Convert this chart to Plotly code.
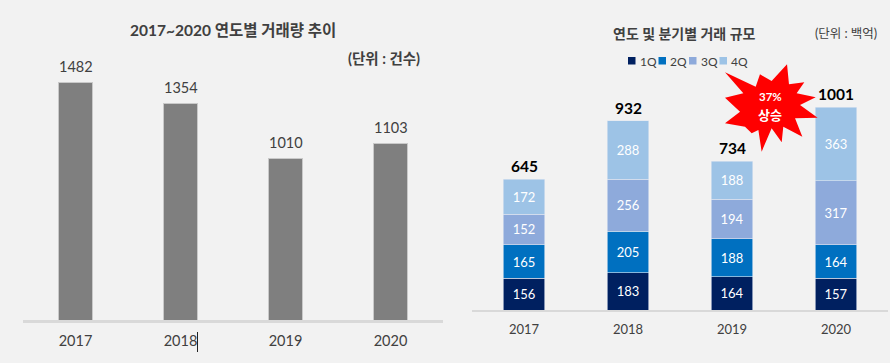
import plotly.graph_objects as go

FONT = "Lato, 'Noto Sans CJK KR', sans-serif"
BG = "#f2f2f2"

years = ["2017", "2018", "2019", "2020"]
volume = [1482, 1354, 1010, 1103]

quarters = ["1Q", "2Q", "3Q", "4Q"]
q1 = [156, 183, 164, 157]
q2 = [165, 205, 188, 164]
q3 = [152, 256, 194, 317]
q4 = [172, 288, 188, 363]
totals = [645, 932, 734, 1001]
q_colors = ["#002060", "#0070c0", "#8eaadb", "#9dc3e6"]

W, H = 890, 363


def px(x):
    return x / W


def py(y):
    return 1 - y / H


fig = go.Figure()

# left chart
fig.add_trace(go.Bar(
    x=years, y=volume, xaxis="x", yaxis="y", width=0.315,
    marker=dict(color="#7f7f7f", line=dict(width=1, color="#c9c9c9")),
    showlegend=False, hoverinfo="x+y",
))

# right chart
for name, vals, col in zip(quarters, [q1, q2, q3, q4], q_colors):
    fig.add_trace(go.Bar(
        x=years, y=vals, name=name, xaxis="x2", yaxis="y2", width=0.4,
        marker=dict(color=col, line=dict(width=0.6, color="#dfe6f0")),
        text=vals, textposition="inside", insidetextanchor="middle",
        textangle=0, constraintext="none",
        textfont=dict(family=FONT, size=13, color="#ffffff"),
        showlegend=False,
    ))

# burst outline, in crop pixels of the callout
burst = [(216, 28), (222, 88), (268, 82), (245, 115), (302, 127), (255, 150), (308, 188),
         (240, 190), (262, 245), (205, 215), (200, 262), (170, 220), (140, 290), (130, 225),
         (110, 235), (90, 215), (30, 205), (75, 170), (30, 128), (85, 115), (30, 52),
         (122, 95), (135, 58), (170, 78)]

shapes = [
    dict(type="path", xref="paper", yref="paper", layer="above",
         path="M " + " L ".join(f"{px(715 + a / 3):.4f} {py(55 + b / 3):.4f}" for a, b in burst) + " Z",
         fillcolor="#ff0000", line=dict(width=0)),
    # text cursor next to the 2018 label
    dict(type="line", xref="paper", yref="paper", x0=px(197.5), x1=px(197.5), y0=py(332), y1=py(352),
         line=dict(color="#222222", width=1)),
]

annotations = [
    dict(x=px(233), y=py(30), text="<b>2017~2020 연도별 거래량 추이</b>",
         font=dict(size=15.5, color="#404040")),
    dict(x=px(384), y=py(58), text="<b>(단위 : 건수)</b>",
         font=dict(size=14.5, color="#404040")),
    dict(x=px(684), y=py(33), text="<b>연도 및 분기별 거래 규모</b>",
         font=dict(size=14, color="#404040")),
    dict(x=px(846), y=py(33), text="(단위 : 백억)",
         font=dict(size=12.5, color="#404040")),
    dict(x=px(770), y=py(97), text="<b>37%</b>",
         font=dict(size=11.5, color="#ffffff")),
    dict(x=px(770), y=py(115), text="<b>상승</b>",
         font=dict(size=13, color="#ffffff")),
]

# compact legend
for i, (name, col) in enumerate(zip(quarters, q_colors)):
    x0 = 628 + i * 30.5
    shapes.append(dict(type="rect", xref="paper", yref="paper",
                       x0=px(x0), x1=px(x0 + 7.5), y0=py(64.5), y1=py(57),
                       fillcolor=col, line=dict(width=0)))
    annotations.append(dict(x=px(x0 + 9.5), y=py(61), text=name, xanchor="left",
                            font=dict(size=12, color="#404040")))

for a in annotations:
    a.update(xref="paper", yref="paper", showarrow=False, yanchor="middle")
    a.setdefault("xanchor", "center")

# value labels above the bars (category axes take the category's index)
for i, v in enumerate(volume):
    annotations.append(dict(xref="x", yref="y", x=i, y=v, text=str(v), showarrow=False,
                            yanchor="middle", xanchor="center", yshift=16,
                            font=dict(size=14.5, color="#404040")))
for i, v in enumerate(totals):
    annotations.append(dict(xref="x2", yref="y2", x=i, y=v, text=f"<b>{v}</b>", showarrow=False,
                            yanchor="middle", xanchor="center", yshift=13,
                            font=dict(size=15.5, color="#000000")))

for a in annotations:
    a["font"]["family"] = FONT

axis_common = dict(
    type="category", showgrid=False, zeroline=False, ticks="",
    showline=True, linecolor="#d9d9d9", range=[-0.5, 3.5],
)

fig.update_layout(
    width=W, height=H, autosize=False,
    paper_bgcolor=BG, plot_bgcolor=BG,
    barmode="stack",
    margin=dict(l=0, r=0, t=0, b=0),
    xaxis=dict(**axis_common, anchor="y", domain=[px(23), px(443)], linewidth=3,
               tickfont=dict(family=FONT, size=14.5, color="#404040"), ticklabelstandoff=6),
    yaxis=dict(domain=[py(320), py(0)], range=[0, 320 / 0.16], visible=False),
    xaxis2=dict(**axis_common, anchor="y2", domain=[px(472), px(888)], linewidth=2,
                tickfont=dict(family=FONT, size=13, color="#404040"), ticklabelstandoff=6),
    yaxis2=dict(domain=[py(310), py(0)], range=[0, 310 / 0.2028], visible=False),
    shapes=shapes,
    annotations=annotations,
    font=dict(family=FONT),
)

fig.write_html("out.html", config=dict(displayModeBar=False),
               post_script="document.body.style.margin='0';document.body.style.background='#f2f2f2';")
